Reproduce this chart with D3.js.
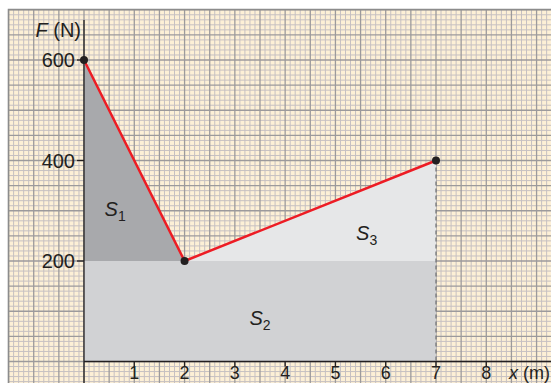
<!DOCTYPE html>
<html><head><meta charset="utf-8">
<script src="https://cdn.jsdelivr.net/npm/d3@7"></script>
<style>html,body{margin:0;padding:0;background:#fff;}svg{display:block;}</style>
</head><body>
<svg id="c" width="551" height="383"></svg>
<script>
// Data
const pointsX = [0, 2, 7];
const pointsF = [600, 200, 400];
const xTicks = [1, 2, 3, 4, 5, 6, 7, 8];
const yTicks = [200, 400, 600];
const areaLabels = ["S1", "S2", "S3"];
const areaLabelPos = [[0.62, 290], [3.5, 72], [5.62, 242]];

(function () {
const svg = d3.select("#c");
const W = 551, H = 383;
const x = d3.scaleLinear().domain([0, 7]).range([84, 436]);
const y = d3.scaleLinear().domain([0, 600]).range([361.5, 60]);

const pLeft = 8.5, pTop = 9.5;
// paper
svg.append("rect").attr("x", pLeft).attr("y", pTop).attr("width", W - pLeft).attr("height", H - pTop).attr("fill", "#fdf0d6");
const gGrid = svg.append("g");
const xMin = x.invert(pLeft), xMax = x.invert(W), yMin = y.invert(H), yMax = y.invert(pTop);
for (let i = Math.ceil(xMin * 10); i <= Math.floor(xMax * 10); i++) {
  if (i % 5 === 0) continue;
  gGrid.append("line").attr("x1", x(i / 10)).attr("x2", x(i / 10)).attr("y1", pTop).attr("y2", H)
    .attr("stroke", "#c6c0c2").attr("stroke-width", 1);
}
for (let j = Math.ceil(yMin / 10); j <= Math.floor(yMax / 10); j++) {
  if (j % 5 === 0) continue;
  gGrid.append("line").attr("y1", y(j * 10)).attr("y2", y(j * 10)).attr("x1", pLeft).attr("x2", W)
    .attr("stroke", "#c6c0c2").attr("stroke-width", 1);
}
for (let i = Math.ceil(xMin * 2); i <= Math.floor(xMax * 2); i++) {
  gGrid.append("line").attr("x1", x(i / 2)).attr("x2", x(i / 2)).attr("y1", pTop).attr("y2", H)
    .attr("stroke", "#9c9a9c").attr("stroke-width", 1.3);
}
for (let j = Math.ceil(yMin / 50); j <= Math.floor(yMax / 50); j++) {
  gGrid.append("line").attr("y1", y(j * 50)).attr("y2", y(j * 50)).attr("x1", pLeft).attr("x2", W)
    .attr("stroke", "#9c9a9c").attr("stroke-width", 1.3);
}
// frame
svg.append("path").attr("d", `M${pLeft},${H}V${pTop}H${W}`).attr("fill", "none").attr("stroke", "#8c8c8c").attr("stroke-width", 1.5);

// areas
const baseF = d3.min(pointsF);
svg.append("rect").attr("x", x(pointsX[0])).attr("y", y(baseF)).attr("width", x(pointsX[2]) - x(pointsX[0]))
  .attr("height", y(0) - y(baseF)).attr("fill", "#d1d2d4");
const poly = d3.line().x(d => x(d[0])).y(d => y(d[1]));
svg.append("path").attr("d", poly([[pointsX[0], pointsF[0]], [pointsX[1], pointsF[1]], [pointsX[0], baseF]]) + "Z").attr("fill", "#a8a9ac");
svg.append("path").attr("d", poly([[pointsX[1], pointsF[1]], [pointsX[2], pointsF[2]], [pointsX[2], baseF]]) + "Z").attr("fill", "#e6e7e8");

// dashed vertical
svg.append("line").attr("x1", x(7)).attr("x2", x(7)).attr("y1", y(400)).attr("y2", y(0))
  .attr("stroke", "#6d6e71").attr("stroke-width", 1.2).attr("stroke-dasharray", "4,3");

// axes
svg.append("line").attr("x1", x(0)).attr("x2", W).attr("y1", y(0)).attr("y2", y(0)).attr("stroke", "#231f20").attr("stroke-width", 1.3);
svg.append("line").attr("x1", x(0)).attr("x2", x(0)).attr("y1", 20).attr("y2", H).attr("stroke", "#231f20").attr("stroke-width", 1.3);

const font = "'Liberation Sans', Arial, sans-serif";
xTicks.forEach(t => {
  svg.append("line").attr("x1", x(t)).attr("x2", x(t)).attr("y1", y(0)).attr("y2", y(0) + 5).attr("stroke", "#231f20").attr("stroke-width", 1.3);
  svg.append("text").attr("x", x(t)).attr("y", 379).attr("text-anchor", "middle")
    .attr("font-family", font).attr("font-size", 18).attr("fill", "#231f20").text(t);
});
yTicks.forEach(t => {
  svg.append("line").attr("x1", x(0) - 7).attr("x2", x(0)).attr("y1", y(t)).attr("y2", y(t)).attr("stroke", "#231f20").attr("stroke-width", 1.3);
  svg.append("text").attr("x", x(0) - 9).attr("y", y(t) + 7).attr("text-anchor", "end")
    .attr("font-family", font).attr("font-size", 20).attr("fill", "#231f20").text(t);
});
// axis titles
const ft = svg.append("text").attr("x", 81).attr("y", 37).attr("text-anchor", "end")
  .attr("font-family", font).attr("font-size", 20).attr("fill", "#231f20");
ft.append("tspan").attr("font-style", "italic").text("F");
ft.append("tspan").text(" (N)");
const xt = svg.append("text").attr("x", 550).attr("y", 379).attr("text-anchor", "end")
  .attr("font-family", font).attr("font-size", 18).attr("fill", "#231f20");
xt.append("tspan").attr("font-style", "italic").text("x");
xt.append("tspan").text(" (m)");

// area labels
areaLabels.forEach((lab, i) => {
  const t = svg.append("text").attr("x", x(areaLabelPos[i][0])).attr("y", y(areaLabelPos[i][1]))
    .attr("text-anchor", "middle").attr("font-family", font).attr("font-size", 20).attr("fill", "#231f20");
  t.append("tspan").attr("font-style", "italic").text(lab[0]);
  t.append("tspan").attr("font-size", 14).attr("dy", 5).text(lab.slice(1));
});

// red line and points
svg.append("path").attr("d", poly(pointsX.map((d, i) => [d, pointsF[i]]))).attr("fill", "none")
  .attr("stroke", "#ed1c24").attr("stroke-width", 2.5).attr("stroke-linejoin", "round");
svg.selectAll("circle.pt").data(pointsX).enter().append("circle")
  .attr("cx", d => x(d)).attr("cy", (d, i) => y(pointsF[i])).attr("r", 4).attr("fill", "#231f20");
})();
</script>
</body></html>
